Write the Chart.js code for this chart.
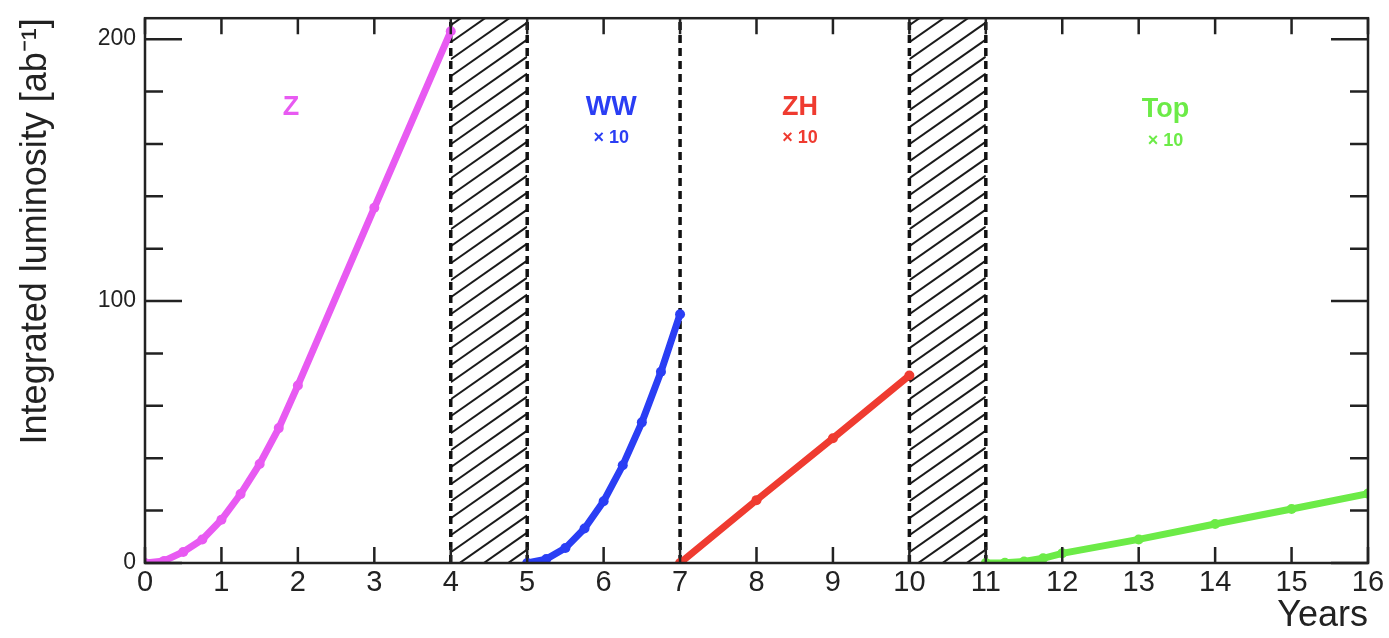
<!DOCTYPE html>
<html>
<head>
<meta charset="utf-8">
<script src="https://cdn.jsdelivr.net/npm/chart.js@4/dist/chart.umd.min.js"></script>
<style>
  html, body { margin: 0; padding: 0; background: #fff; }
  #wrap { width: 1389px; height: 638px; }
</style>
</head>
<body>
<div id="wrap"><canvas id="myChart"></canvas></div>
<script>
// values (integrated luminosity, ab^-1; WW, ZH, Top shown x10)
const zYears = [0, 0.25, 0.5, 0.75, 1, 1.25, 1.5, 1.75, 2, 3, 4];
const zLumi = [0, 0.8, 4.2, 9, 16.5, 26.3, 37.8, 51.5, 67.8, 135.6, 203];

const wwYears = [5, 5.25, 5.5, 5.75, 6, 6.25, 6.5, 6.75, 7];
const wwLumi = [0, 1.5, 5.7, 13.2, 23.6, 37.3, 53.7, 73, 95];

const zhYears = [7, 8, 9, 10];
const zhLumi = [0, 24, 47.6, 71.6];

const topYears = [11, 11.25, 11.5, 11.75, 12, 13, 14, 15, 16];
const topLumi = [0, 0.1, 0.6, 1.8, 3.7, 9.0, 14.9, 20.6, 26.5];

const xTicks = [0, 1, 2, 3, 4, 5, 6, 7, 8, 9, 10, 11, 12, 13, 14, 15, 16];
const yTicks = [0, 100, 200];
const yMinorTicks = [20, 40, 60, 80, 120, 140, 160, 180];

const dashedYears = [4, 5, 7, 10, 11];
const shutdowns = [[4, 5], [10, 11]];

const runLabels = ["Z", "WW", "ZH", "Top"];
const runLabelX = [1.91, 6.1, 8.57, 13.35];
const runLabelY = [174, 174, 174, 173];
const runScaled = [false, true, true, true];

const colZ = "#e85af2";
const colWW = "#2a3ef4";
const colZH = "#ef3b30";
const colTop = "#6ceb47";
const runColors = [colZ, colWW, colZH, colTop];

const FONT = "'Liberation Sans', Arial, sans-serif";

function pts(xs, ys) {
  return xs.map((x, i) => ({ x: x, y: ys[i] }));
}

function series(label, xs, ys, color) {
  return {
    label: label,
    data: pts(xs, ys),
    borderColor: color,
    backgroundColor: color,
    borderWidth: 7,
    pointRadius: 5,
    pointBorderWidth: 0,
    tension: 0,
    fill: false,
  };
}

const decorPlugin = {
  id: "decor",
  beforeDatasetsDraw(chart) {
    const ctx = chart.ctx;
    const xs = chart.scales.x;
    const top = chart.chartArea.top;
    const bottom = chart.chartArea.bottom;

    // hatched shutdown periods
    shutdowns.forEach((s) => {
      const x0 = xs.getPixelForValue(s[0]);
      const x1 = xs.getPixelForValue(s[1]);
      ctx.save();
      ctx.beginPath();
      ctx.rect(x0, top, x1 - x0, bottom - top);
      ctx.clip();
      ctx.strokeStyle = "#1a1a1a";
      ctx.lineWidth = 2;
      const w = x1 - x0;
      const rise = w * 0.7;
      for (let y = top - 10; y < bottom + rise + 20; y += 17) {
        ctx.beginPath();
        ctx.moveTo(x0, y);
        ctx.lineTo(x1, y - rise);
        ctx.stroke();
      }
      ctx.restore();
    });

    // dashed period boundaries
    ctx.save();
    ctx.strokeStyle = "#111";
    ctx.lineWidth = 3.5;
    ctx.setLineDash([8, 5]);
    dashedYears.forEach((v) => {
      const x = xs.getPixelForValue(v);
      ctx.beginPath();
      ctx.moveTo(x, bottom);
      ctx.lineTo(x, top);
      ctx.stroke();
    });
    ctx.restore();
  },
  afterDatasetsDraw(chart) {
    const ctx = chart.ctx;
    const xs = chart.scales.x;
    const ys = chart.scales.y;
    const a = chart.chartArea;

    // frame + inward ticks on all four sides
    ctx.save();
    ctx.strokeStyle = "#222";
    ctx.lineWidth = 2.5;
    ctx.strokeRect(a.left, a.top, a.right - a.left, a.bottom - a.top);
    xTicks.forEach((v) => {
      const x = xs.getPixelForValue(v);
      ctx.beginPath();
      ctx.moveTo(x, a.bottom);
      ctx.lineTo(x, a.bottom - 16);
      ctx.moveTo(x, a.top);
      ctx.lineTo(x, a.top + 16);
      ctx.stroke();
    });
    yTicks.forEach((v) => {
      const y = ys.getPixelForValue(v);
      ctx.beginPath();
      ctx.moveTo(a.left, y);
      ctx.lineTo(a.left + 37, y);
      ctx.moveTo(a.right, y);
      ctx.lineTo(a.right - 37, y);
      ctx.stroke();
    });
    yMinorTicks.forEach((v) => {
      const y = ys.getPixelForValue(v);
      ctx.beginPath();
      ctx.moveTo(a.left, y);
      ctx.lineTo(a.left + 18, y);
      ctx.moveTo(a.right, y);
      ctx.lineTo(a.right - 18, y);
      ctx.stroke();
    });
    ctx.restore();

    // run labels
    ctx.save();
    ctx.textAlign = "center";
    ctx.textBaseline = "middle";
    runLabels.forEach((t, i) => {
      const x = xs.getPixelForValue(runLabelX[i]);
      const y = ys.getPixelForValue(runLabelY[i]);
      ctx.fillStyle = runColors[i];
      ctx.font = "bold 27px " + FONT;
      ctx.fillText(t, x, y);
      if (runScaled[i]) {
        ctx.font = "bold 18px " + FONT;
        ctx.fillText("\u00d7 10", x, y + 31);
      }
    });
    ctx.restore();
  },
};

window.onload = () => {
  const ctx = document.getElementById("myChart");
  new Chart(ctx, {
    type: "line",
    data: {
      datasets: [
        series("Z", zYears, zLumi, colZ),
        series("WW", wwYears, wwLumi, colWW),
        series("ZH", zhYears, zhLumi, colZH),
        series("Top", topYears, topLumi, colTop),
      ],
    },
    options: {
      responsive: true,
      maintainAspectRatio: false,
      animation: false,
      layout: { padding: { top: 0, right: 21, left: 0, bottom: 0 } },
      plugins: {
        legend: { display: false },
        tooltip: { enabled: false },
      },
      scales: {
        x: {
          type: "linear",
          min: 0,
          max: 16,
          grid: { display: false, drawTicks: false },
          border: { display: false },
          afterBuildTicks: (s) => {
            s.ticks = xTicks.map((v) => ({ value: v }));
          },
          afterFit: (s) => {
            s.height = 75;
          },
          ticks: {
            color: "#222",
            padding: 3,
            maxRotation: 0,
            autoSkip: false,
            font: { family: FONT, size: 29 },
          },
          title: {
            display: true,
            text: "Years",
            align: "end",
            color: "#222",
            padding: { top: -8, bottom: 0 },
            font: { family: FONT, size: 36 },
          },
        },
        y: {
          type: "linear",
          min: 0,
          max: 208,
          grid: { display: false, drawTicks: false },
          border: { display: false },
          afterBuildTicks: (s) => {
            s.ticks = yTicks.map((v) => ({ value: v }));
          },
          afterFit: (s) => {
            s.width = 145;
          },
          ticks: {
            color: "#222",
            padding: 9,
            font: { family: FONT, size: 23, lineHeight: 0.8 },
          },
          title: {
            display: true,
            text: "Integrated luminosity [ab\u207b\u00b9]",
            align: "end",
            color: "#222",
            padding: { top: 14, bottom: 0 },
            font: { family: FONT, size: 36 },
          },
        },
      },
    },
    plugins: [decorPlugin],
  });
};
</script>
</body>
</html>
